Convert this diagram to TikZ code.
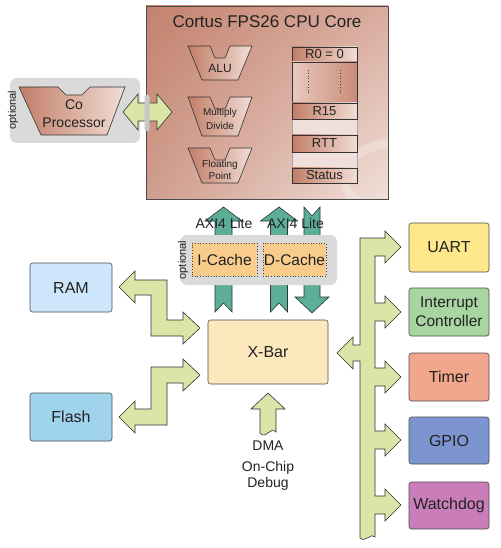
\documentclass[tikz,border=0pt]{standalone}
\usepackage{fontspec}
\setmainfont{Liberation Sans}
\usetikzlibrary{shadings}
\definecolor{agreen}{HTML}{DAE6A8}
\definecolor{ateal}{HTML}{5CAE98}
\definecolor{optgray}{HTML}{DADADA}
\definecolor{core1}{HTML}{C3826E}
\definecolor{core2}{HTML}{D9AC9E}
\definecolor{core3}{HTML}{D09D8D}
\definecolor{core4}{HTML}{F1E0DA}
\definecolor{trapdark}{HTML}{C27E68}
\definecolor{traplight}{HTML}{F1DDD5}
\definecolor{gaplight}{HTML}{EFE0DB}
\definecolor{cachefill}{HTML}{F9CC8C}
\definecolor{uartc}{HTML}{FFE88C}
\definecolor{intcc}{HTML}{A9D5A2}
\definecolor{timerc}{HTML}{F2A68C}
\definecolor{gpioc}{HTML}{7C94D0}
\definecolor{wdogc}{HTML}{CA7EB9}
\definecolor{ramc}{HTML}{CDE6FB}
\definecolor{flashc}{HTML}{A0D4EC}
\definecolor{xbarc}{HTML}{FDE7BD}
\definecolor{txt}{HTML}{222222}
\begin{document}
\begin{tikzpicture}[x=1pt,y=-1pt,
  every node/.style={text=txt},
  box/.style={draw=black!70, line width=0.6pt, rounded corners=2.5pt, inner sep=0pt, align=center, font=\fontsize{16}{19}\selectfont},
  garrow/.style={draw=black!80, fill=agreen, line width=0.6pt, line join=miter},
  tarrow/.style={draw=black!80, fill=ateal, line width=0.6pt, line join=miter},
  optbox/.style={fill=optgray, rounded corners=7pt},
  trapz/.style={draw=black!80, line width=0.6pt, left color=trapdark, right color=traplight},
  reg/.style={draw=black!80, line width=0.6pt, left color=trapdark, right color=traplight, inner sep=0pt, minimum width=65pt, font=\fontsize{13}{15}\selectfont},
  cachebox/.style={draw=black!75, dotted, line width=0.7pt, fill=cachefill, inner sep=0pt, minimum height=33pt, font=\fontsize{15.5}{18}\selectfont},
  opttext/.style={rotate=90, font=\fontsize{11}{13}\selectfont},
  lbl/.style={font=\fontsize{14}{16}\selectfont}
]
\useasboundingbox (0,0) rectangle (500,548);
\fill[white] (0,0) rectangle (500,548);

% ---------- CPU core ----------
\shade[upper left=core1, upper right=core2, lower left=core3, lower right=core4] (146,6) rectangle (388,199);
\begin{scope}
  \clip (146,6) rectangle (388,199);
  \draw[white, opacity=0.25, line width=9pt] (392,178) ellipse (48pt and 34pt);
\end{scope}
\draw[black!70, line width=0.6pt] (146,6) rectangle (388,199);
\node[font=\fontsize{17}{20}\selectfont] (title) at (267,22) {Cortus FPS26 CPU Core};

% ALU-like shapes
\path[trapz] (188,46) -- (210,46) -- (215,58) -- (225,58) -- (230,46) -- (252,46) -- (238,80) -- (202,80) -- cycle;
\node[font=\fontsize{12}{14}\selectfont] (alu) at (220,68) {ALU};
\path[trapz] (188,97) -- (210,97) -- (215,109) -- (225,109) -- (230,97) -- (252,97) -- (238,136) -- (202,136) -- cycle;
\node[font=\fontsize{10}{14}\selectfont, align=center] (muldiv) at (220,119) {Multiply\\Divide};
\path[trapz] (188,148) -- (210,148) -- (215,160) -- (225,160) -- (230,148) -- (252,148) -- (238,183) -- (202,183) -- cycle;
\node[font=\fontsize{10}{12.5}\selectfont, align=center] (fpu) at (220,170) {Floating\\Point};

% register file
\draw[black!35, fill=gaplight, line width=0.6pt] (292,47) rectangle (357,183);
\node[reg, minimum height=15pt] (r0) at (324.5,54.5) {R0 = 0};
\node[reg, minimum height=41pt, left color=traplight!80!trapdark, right color=trapdark!85!traplight] (rdots) at (324.5,82.5) {};
\draw[black!75, dotted, line width=0.8pt] (308,70) -- (308,95) (340,70) -- (340,95);
\node[reg, minimum height=16pt] (r15) at (324.5,111) {R15};
\node[reg, minimum height=17pt] (rtt) at (324.5,143.5) {RTT};
\node[reg, minimum height=15pt] (status) at (324.5,175.5) {Status};

% ---------- Co-processor ----------
\path[optbox] (10,78) rectangle (140,143);
\node[opttext] (opt1) at (13,110) {optional};
\path[trapz] (19,87) -- (58,87) -- (66,95) -- (82,95) -- (90,87) -- (125,87) -- (107,135) -- (41,135) -- cycle;
\node[font=\fontsize{14}{18}\selectfont, align=center] (coproc) at (74,114) {Co\\Processor};
\draw[garrow] (123,112) -- (138,94) -- (138,103) -- (157,103) -- (157,94) -- (172,112) -- (157,130) -- (157,121) -- (138,121) -- (138,130) -- cycle;
\fill[black!22, rounded corners=1.5pt] (144.5,95) rectangle (149.5,131);

% ---------- caches ----------
\draw[tarrow] (223.5,207) -- (242,221) -- (232,221) -- (232,312) -- (223.5,303) -- (215,312) -- (215,221) -- (205,221) -- cycle;
\draw[tarrow] (279,207) -- (297.5,221) -- (287.5,221) -- (287.5,312) -- (279,303) -- (270.5,312) -- (270.5,221) -- (260.5,221) -- cycle;
\draw[tarrow] (304,207) -- (312,216) -- (320,207) -- (320,297) -- (329,297) -- (312,313) -- (295,297) -- (304,297) -- cycle;
\node[lbl] (axi1) at (224,223.5) {AXI4 Lite};
\node[lbl] (axi2) at (295.5,223.5) {AXI4 Lite};
\path[optbox] (180,235) rectangle (337,285);
\node[opttext] (opt2) at (183,260) {optional};
\node[cachebox, minimum width=65pt] (icache) at (224.5,259.5) {I-Cache};
\node[cachebox, minimum width=63pt] (dcache) at (294.5,259.5) {D-Cache};

% ---------- memories and X-Bar ----------
\node[box, fill=ramc, minimum width=82pt, minimum height=49pt] (ram) at (71,287.5) {RAM};
\node[box, fill=flashc, minimum width=82pt, minimum height=48pt] (flash) at (71,417) {Flash};
\node[box, fill=xbarc, minimum width=120pt, minimum height=64pt] (xbar) at (268,352) {X-Bar};

\draw[garrow] (119,287) -- (135,271) -- (135,280) -- (167,280) -- (167,320) -- (183,320) -- (183,312) -- (200,328) -- (183,344) -- (183,336) -- (151,336) -- (151,295) -- (135,295) -- (135,303) -- cycle;
\draw[garrow] (119,417) -- (135,401) -- (135,409) -- (151,409) -- (151,367) -- (183,367) -- (183,359) -- (200,375) -- (183,391) -- (183,383) -- (167,383) -- (167,425) -- (135,425) -- (135,433) -- cycle;

% DMA
\draw[garrow] (268,393) -- (285,409) -- (276,409) -- (276,432) .. controls (270,426) and (266,440) .. (260,433) -- (260,409) -- (251,409) -- cycle;
\node[lbl] (dma) at (268,445.5) {DMA};
\node[lbl, align=center] (debug) at (268,475.5) {On-Chip\\Debug};

% ---------- peripherals ----------
\node[box, fill=uartc, minimum width=80pt, minimum height=49pt] (uart) at (449,247.5) {UART};
\node[box, fill=intcc, minimum width=80pt, minimum height=48pt, font=\fontsize{15.5}{19}\selectfont] (intc) at (449,312) {Interrupt\\Controller};
\node[box, fill=timerc, minimum width=80pt, minimum height=48pt] (timer) at (449,377) {Timer};
\node[box, fill=gpioc, minimum width=80pt, minimum height=47pt] (gpio) at (449,440.5) {GPIO};
\node[box, fill=wdogc, minimum width=80pt, minimum height=47pt] (wdog) at (449,505.5) {Watchdog};

% peripheral bus
\draw[garrow] (360,238) -- (385,238) -- (385,231) -- (401,247) -- (385,263) -- (385,256) -- (375,256)
  -- (375,303) -- (385,303) -- (385,296) -- (401,312) -- (385,328) -- (385,321) -- (375,321)
  -- (375,368) -- (385,368) -- (385,361) -- (401,377) -- (385,393) -- (385,386) -- (375,386)
  -- (375,431) -- (385,431) -- (385,424) -- (401,440) -- (385,456) -- (385,449) -- (375,449)
  -- (375,496) -- (385,496) -- (385,489) -- (401,505) -- (385,521) -- (385,514) -- (375,514)
  -- (375,537) .. controls (371,532) and (366,543) .. (360,538)
  -- (360,361) -- (353,361) -- (353,369) -- (337,353) -- (353,337) -- (353,345) -- (360,345) -- cycle;
\end{tikzpicture}
\end{document}
